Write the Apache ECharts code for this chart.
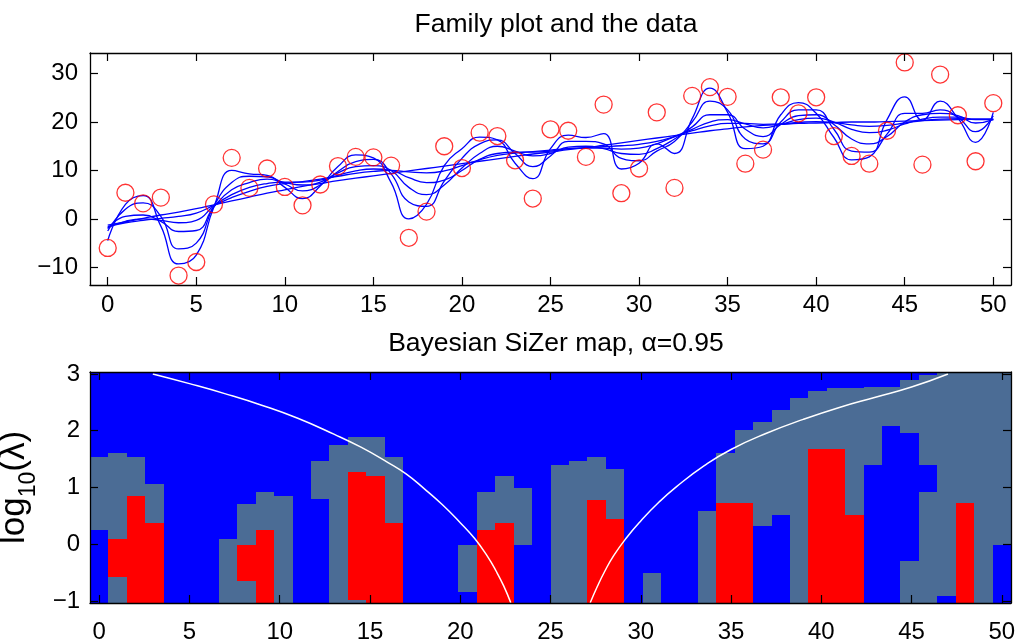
<!DOCTYPE html>
<html><head><meta charset="utf-8">
<script src="https://cdn.jsdelivr.net/npm/echarts@6/dist/echarts.min.js"></script>
<style>html,body{margin:0;padding:0;background:#fff}#c{width:1020px;height:643px}</style>
</head><body><div id="c"></div>
<script>
// ---------- data: top panel ----------
const dataX = [0,1,2,3,4,5,6,7,8,9,10,11,12,13,14,15,16,17,18,19,20,21,22,23,24,25,26,27,28,29,30,31,32,33,34,35,36,37,38,39,40,41,42,43,44,45,46,47,48,49,50];
const dataY = [-6.0,5.4,3.2,4.4,-11.7,-8.9,3.0,12.6,6.4,10.4,6.6,2.8,7.1,10.9,12.8,12.7,11.0,-3.9,1.5,15.0,10.5,17.8,17.1,12.1,4.2,18.5,18.2,12.8,23.6,5.3,10.4,22.0,6.4,25.4,27.2,25.2,11.4,14.3,25.1,21.8,25.1,17.1,13.0,11.4,18.2,32.3,11.2,29.8,21.4,11.9,23.9];
const fam1 = [-4.5,3.0,4.8,-1.5,-9.3,-7.5,2.5,10.0,9.3,9.0,6.5,4.2,6.8,10.8,13.2,12.6,7.5,0.0,3.0,11.0,14.5,16.9,16.3,11.5,8.3,14.5,17.3,16.8,17.6,10.3,11.5,15.5,13.5,20.7,27.0,22.0,14.5,15.0,21.5,24.0,21.8,16.8,12.2,12.8,20.5,25.2,20.4,24.3,20.8,15.8,22.0];
const fam2 = [-2.5,2.0,3.3,0.5,-6.2,-5.0,2.7,7.5,8.8,8.7,7.2,5.8,7.0,9.8,11.8,12.3,9.3,3.5,2.6,7.8,12.5,15.5,16.3,13.5,10.8,13.0,16.0,16.0,15.5,12.5,12.0,14.0,16.0,20.0,24.3,22.5,16.5,15.5,20.0,22.5,22.5,18.5,14.0,13.8,17.5,21.8,21.8,22.5,21.0,18.0,21.3];
const fam3 = [-2.0,0.5,0.8,-0.5,-2.6,-2.4,2.5,6.0,7.5,8.2,7.5,7.0,7.6,9.5,10.8,11.0,10.0,6.5,5.0,7.0,10.5,13.5,15.0,14.0,13.0,13.5,14.8,15.0,14.5,13.5,13.3,14.5,16.5,19.0,21.5,21.5,18.5,17.0,19.5,21.3,21.5,19.5,16.5,15.5,17.0,20.0,21.5,21.8,21.3,19.8,20.5];
const fam4 = [-1.8,-0.5,0.0,-0.3,-0.8,-0.3,2.7,5.0,6.5,7.3,7.6,7.6,8.0,9.0,9.9,10.3,10.0,8.5,7.5,8.0,10.0,12.3,13.5,13.8,13.8,14.0,14.5,14.6,14.6,14.4,14.6,15.5,17.0,18.5,20.0,20.5,19.6,18.8,19.5,20.5,20.8,20.0,18.5,17.8,18.3,19.6,20.6,21.0,21.0,20.5,20.5];
const fam5 = [-1.6,-0.8,-0.3,0.1,0.5,1.2,2.8,4.4,5.7,6.7,7.3,7.7,8.2,8.8,9.4,9.8,10.0,9.7,9.5,9.9,11.0,12.2,13.1,13.6,13.9,14.2,14.5,14.7,14.9,15.1,15.4,16.0,17.0,18.2,19.2,19.7,19.7,19.5,19.6,19.9,20.1,19.9,19.4,19.1,19.3,19.8,20.3,20.6,20.7,20.6,20.6];
const fam6 = [-1.3,-0.6,0.1,0.8,1.4,2.1,2.9,3.7,4.5,5.3,6.0,6.7,7.3,7.9,8.4,8.9,9.4,9.9,10.4,10.9,11.4,11.9,12.4,12.9,13.4,13.8,14.3,14.7,15.2,15.7,16.2,16.7,17.2,17.7,18.2,18.6,19.0,19.3,19.5,19.7,19.8,19.9,20.0,20.0,20.1,20.2,20.3,20.4,20.5,20.6,20.6];
const topXTicks = [0,5,10,15,20,25,30,35,40,45,50];
const topYTicks = [-10,0,10,20,30];

// ---------- data: SiZer map ----------
const mapXTicks = [0,5,10,15,20,25,30,35,40,45,50];
const mapYTicks = [-1,0,1,2,3];
const mapGridX = [0,50];        // 50 locations from 0 to 50
const mapCols = 50;
const mapYLo = -1.035, mapYHi = 3.035;
// classes: 0 = blue, 1 = grey, 2 = red ; each column: runs from bottom, [class, upper value]
const H = mapYHi;
const mapRuns = [
 [[0,0.25],[1,1.54],[0,H]],
 [[1,-0.57],[2,0.10],[1,1.61],[0,H]],
 [[2,0.855],[1,1.54],[0,H]],
 [[2,0.38],[1,1.065],[0,H]],
 [[0,H]],
 [[0,H]],
 [[0,H]],
 [[1,0.10],[0,H]],
 [[1,-0.64],[2,-0.02],[1,0.716],[0,H]],
 [[2,0.244],[1,0.925],[0,H]],
 [[1,0.855],[0,H]],
 [[0,H]],
 [[0,0.79],[1,1.467],[0,H]],
 [[1,1.747],[0,H]],
 [[1,-0.98],[2,1.275],[1,1.887],[0,H]],
 [[2,1.205],[1,1.887],[0,H]],
 [[2,0.38],[1,1.54],[0,H]],
 [[0,H]],
 [[0,H]],
 [[0,H]],
 [[0,-0.834],[1,-0.02],[0,H]],
 [[2,0.244],[1,0.925],[0,H]],
 [[2,0.38],[1,1.205],[0,H]],
 [[0,-0.02],[1,0.995],[0,H]],
 [[0,H]],
 [[1,1.397],[0,H]],
 [[1,1.467],[0,H]],
 [[2,0.786],[1,1.537],[0,H]],
 [[2,0.453],[1,1.328],[0,H]],
 [[0,H]],
 [[1,-0.508],[0,H]],
 [[0,H]],
 [[0,H]],
 [[1,0.593],[0,H]],
 [[2,0.721],[1,1.607],[0,H]],
 [[2,0.721],[1,2.009],[0,H]],
 [[0,0.313],[1,2.149],[0,H]],
 [[0,0.523],[1,2.359],[0,H]],
 [[1,2.569],[0,H]],
 [[2,1.677],[1,2.709],[0,H]],
 [[2,1.677],[1,2.761],[0,H]],
 [[2,0.523],[1,2.761],[0,H]],
 [[0,1.397],[1,2.767],[0,H]],
 [[0,2.079],[1,2.767],[0,H]],
 [[1,-0.293],[0,1.957],[1,2.895],[0,H]],
 [[1,0.925],[0,1.397],[1,2.977],[0,H]],
 [[0,-0.91],[1,H]],
 [[2,0.721],[1,H]],
 [[1,H]],
 [[0,-0.02],[1,H]]
];
const mapColors = ['#0000ff','#4b6c95','#ff0000'];
const leftCurveX = [2.97,5.0,7.0,9.0,11.0,13.0,14.5,16.0,17.0,18.0,19.0,20.0,20.8,21.5,22.0,22.4,22.8];
const leftCurveY = [3.0,2.83,2.65,2.45,2.22,1.94,1.71,1.44,1.24,0.98,0.70,0.38,0.10,-0.21,-0.48,-0.73,-1.03];
const rightCurveX = [27.2,27.6,28.0,28.5,29.2,30.0,31.0,32.0,33.5,35.0,37.0,39.0,41.0,43.0,45.0,47.02];
const rightCurveY = [-1.03,-0.74,-0.48,-0.20,0.11,0.41,0.74,1.02,1.38,1.67,1.96,2.20,2.41,2.59,2.77,3.0];

// ---------- build ----------
const FONT = 'Liberation Sans';
const step = (mapGridX[1]-mapGridX[0])/(mapCols-1);
const cells = [];
mapRuns.forEach((runs,k)=>{
  let lo = mapYLo;
  const xc = mapGridX[0] + k*step;
  runs.forEach(r=>{ cells.push([xc, lo, r[1], r[0]]); lo = r[1]; });
});
const zip = (xs,ys)=>xs.map((x,i)=>[x,ys[i]]);
const fmt = v => String(v).replace('-', '\u2212');

function axisCommon(extra){
  return Object.assign({
    type:'value', splitLine:{show:false}, z:10,
    axisLine:{show:true, onZero:false, lineStyle:{color:'#000', width:1.3}},
  }, extra);
}
const labelStyle = {color:'#000', fontFamily:FONT, fontSize:24, formatter:fmt};
const tick = vals => ({inside:true, length:8, customValues:vals, lineStyle:{color:'#000', width:1.2}});

const option = {
  animation:false,
  backgroundColor:'#fff',
  title:[
    {text:'Family plot and the data', left:551, top:6, textAlign:'center',
     textStyle:{fontFamily:FONT, fontWeight:'normal', fontSize:26.5, color:'#000'}},
    {text:'Bayesian SiZer map, \u03b1=0.95', left:551, top:325, textAlign:'center',
     textStyle:{fontFamily:FONT, fontWeight:'normal', fontSize:26.5, color:'#000'}}
  ],
  grid:[
    {left:90, top:53, width:921, height:232, outerBoundsMode:'none', containLabel:false},
    {left:90, top:372, width:921, height:231, outerBoundsMode:'none', containLabel:false}
  ],
  xAxis:[
    axisCommon({gridIndex:0, position:'bottom', min:-1, max:51, axisTick:tick(topXTicks),
      axisLabel:Object.assign({customValues:topXTicks, margin:8}, labelStyle)}),
    axisCommon({gridIndex:0, position:'top', min:-1, max:51, axisTick:tick(topXTicks), axisLabel:{show:false}}),
    axisCommon({gridIndex:1, position:'bottom', min:mapGridX[0]-step/2, max:mapGridX[1]+step/2, axisTick:tick(mapXTicks),
      axisLabel:Object.assign({customValues:mapXTicks, margin:17}, labelStyle)}),
    axisCommon({gridIndex:1, position:'top', min:mapGridX[0]-step/2, max:mapGridX[1]+step/2, axisTick:tick(mapXTicks), axisLabel:{show:false}})
  ],
  yAxis:[
    axisCommon({gridIndex:0, position:'left', min:-13.65, max:34.25, axisTick:tick(topYTicks),
      axisLabel:Object.assign({customValues:topYTicks, margin:12}, labelStyle)}),
    axisCommon({gridIndex:0, position:'right', min:-13.65, max:34.25, axisTick:tick(topYTicks), axisLabel:{show:false}}),
    axisCommon({gridIndex:1, position:'left', min:mapYLo, max:mapYHi, axisTick:tick(mapYTicks),
      axisLabel:Object.assign({customValues:mapYTicks, margin:10}, labelStyle),
      name:'{a|log}{s|10}{a|(\u03bb)}', nameLocation:'middle', nameRotate:90, nameGap:10,
      nameTextStyle:{fontFamily:FONT, color:'#000', rich:{
        a:{fontFamily:FONT, fontSize:35, color:'#000', lineHeight:35, verticalAlign:'middle', padding:[0,0,10,0]},
        s:{fontFamily:FONT, fontSize:23, color:'#000', lineHeight:23, verticalAlign:'middle', padding:[18,0,0,0]}
      }}}),
    axisCommon({gridIndex:1, position:'right', min:mapYLo, max:mapYHi, axisTick:tick(mapYTicks), axisLabel:{show:false}})
  ],
  series:[
    ...[fam1,fam2,fam3,fam4,fam5,fam6].map(f=>({
      type:'line', xAxisIndex:0, yAxisIndex:0, data:zip(dataX,f), smooth:true,
      showSymbol:false, symbol:'none', lineStyle:{color:'#0000ff', width:1.3}, z:3
    })),
    {type:'scatter', xAxisIndex:0, yAxisIndex:0, data:zip(dataX,dataY), symbol:'circle', symbolSize:17,
     itemStyle:{color:'rgba(0,0,0,0)', borderColor:'#ff0000', borderWidth:1.3}, z:4},
    {type:'custom', xAxisIndex:2, yAxisIndex:2, data:cells, clip:true, z:1,
     renderItem:(params, api)=>{
       const xc=api.value(0), y0=api.value(1), y1=api.value(2), c=api.value(3);
       const p0=api.coord([xc-step/2, y1]), p1=api.coord([xc+step/2, y0]);
       const x0=Math.round(p0[0]), x1=Math.round(p1[0]), yt=Math.round(p0[1]), yb=Math.round(p1[1]);
       return {type:'rect', shape:{x:x0, y:yt, width:x1-x0, height:yb-yt}, style:{fill:mapColors[c]}};
     }},
    {type:'line', xAxisIndex:2, yAxisIndex:2, data:zip(leftCurveX,leftCurveY), smooth:0.5, showSymbol:false, symbol:'none',
     lineStyle:{color:'#ffffff', width:1.5}, z:5},
    {type:'line', xAxisIndex:2, yAxisIndex:2, data:zip(rightCurveX,rightCurveY), smooth:0.5, showSymbol:false, symbol:'none',
     lineStyle:{color:'#ffffff', width:1.5}, z:5}
  ]
};
const chart = echarts.init(document.getElementById('c'), null, {renderer:'canvas'});
chart.setOption(option);
</script></body></html>
